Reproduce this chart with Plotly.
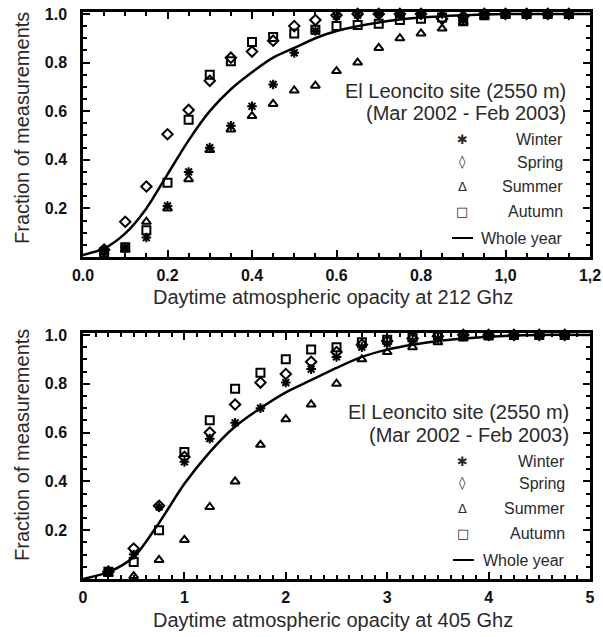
import plotly.graph_objects as go

# ---------------- data ----------------
x212 = [0.05, 0.10, 0.15, 0.20, 0.25, 0.30, 0.35, 0.40, 0.45, 0.50, 0.55, 0.60,
        0.65, 0.70, 0.75, 0.80, 0.85, 0.90, 0.95, 1.00, 1.05, 1.10, 1.15]
winter212 = [0.03, 0.04, 0.08, 0.21, 0.35, 0.45, 0.54, 0.62, 0.71, 0.84, 0.93, 0.99,
             0.995, 1.0, 1.0, 1.0, 1.0, 0.975, 1.0, 1.0, 1.0, 1.0, 1.0]
spring212 = [0.03, 0.145, 0.29, 0.505, 0.605, 0.725, 0.82, 0.845, 0.89, 0.95, 0.975, 0.995,
             1.0, 1.0, 1.0, 1.0, 0.98, 0.99, 1.0, 1.0, 1.0, 1.0, 1.0]
summer212 = [0.02, 0.03, 0.145, 0.20, 0.32, 0.44, 0.525, 0.58, 0.63, 0.685, 0.705, 0.765,
             0.80, 0.86, 0.90, 0.92, 0.94, 0.965, 0.99, 0.995, 1.0, 1.0, 1.0]
autumn212 = [0.02, 0.04, 0.11, 0.305, 0.565, 0.75, 0.805, 0.885, 0.905, 0.92, 0.935, 0.95,
             0.955, 0.96, 0.975, 0.98, 0.985, 0.97, 0.995, 1.0, 1.0, 1.0, 1.0]
year212_x = [0.0, 0.05, 0.10, 0.15, 0.20, 0.25, 0.30, 0.35, 0.40, 0.45, 0.50, 0.55, 0.60,
             0.70, 0.80, 0.90, 1.00, 1.10, 1.20]
year212_y = [0.008, 0.035, 0.097, 0.20, 0.34, 0.48, 0.60, 0.69, 0.76, 0.82, 0.86, 0.90, 0.93,
             0.965, 0.985, 0.995, 1.0, 1.0, 1.0]

x405 = [0.25, 0.50, 0.75, 1.00, 1.25, 1.50, 1.75, 2.00, 2.25, 2.50, 2.75, 3.00,
        3.25, 3.50, 3.75, 4.00, 4.25, 4.50, 4.75]
winter405 = [0.03, 0.10, 0.295, 0.48, 0.575, 0.64, 0.70, 0.805, 0.86, 0.91, 0.95, 0.965,
             0.975, 0.985, 0.995, 1.0, 1.0, 1.0, 1.0]
spring405 = [0.03, 0.125, 0.30, 0.50, 0.60, 0.715, 0.805, 0.84, 0.89, 0.93, 0.96, 0.975,
             0.985, 0.995, 1.0, 1.0, 1.0, 1.0, 1.0]
summer405 = [0.02, 0.012, 0.078, 0.16, 0.295, 0.40, 0.55, 0.655, 0.715, 0.80, 0.90, 0.93,
             0.95, 0.97, 0.985, 0.99, 1.0, 1.0, 1.0]
autumn405 = [0.03, 0.07, 0.20, 0.52, 0.65, 0.78, 0.845, 0.90, 0.94, 0.95, 0.97, 0.98,
             0.99, 1.0, 1.0, 1.0, 1.0, 1.0, 1.0]
year405_x = [0.0, 0.25, 0.50, 0.75, 1.00, 1.25, 1.50, 1.75, 2.00, 2.25, 2.50, 2.75, 3.00,
             3.25, 3.50, 3.75, 4.00, 4.50, 5.00]
year405_y = [0.0, 0.028, 0.09, 0.23, 0.39, 0.52, 0.625, 0.70, 0.765, 0.815, 0.865, 0.91, 0.94,
             0.96, 0.975, 0.985, 0.993, 1.0, 1.0]

x212_ticks = [0.0, 0.2, 0.4, 0.6, 0.8, 1.0, 1.2]
x212_ticktext = ["0.0", "0.2", "0.4", "0.6", "0.8", "1,0", "1,2"]
x405_ticks = [0, 1, 2, 3, 4, 5]
x405_ticktext = ["0", "1", "2", "3", "4", "5"]
y_ticks = [0.2, 0.4, 0.6, 0.8, 1.0]
y_ticktext = ["0.2", "0.4", "0.6", "0.8", "1.0"]

season_names = ["Winter", "Spring", "Summer", "Autumn", "Whole year"]
legend_glyphs = ["✱", "◊", "Δ", "□"]
site_title = "El Leoncito site (2550 m)"
period_title = "(Mar 2002 - Feb 2003)"
xtitle212 = "Daytime atmospheric opacity at 212 Ghz"
xtitle405 = "Daytime atmospheric opacity at 405 Ghz"
ytitle = "Fraction of measurements"

# ---------------- figure ----------------
W, H = 603, 637
FONT = "Liberation Sans, Arial, Helvetica, sans-serif"
TXT = "#2a2a2a"

fig = go.Figure()

symbols = {"Winter": "asterisk-open", "Spring": "diamond-open",
           "Summer": "triangle-up-open", "Autumn": "square-open"}
sizes = {"Winter": 8, "Spring": 8, "Summer": 8, "Autumn": 8}

def add_panel(xs, series, yx, yy, xa, ya):
    for name, vals in series:
        fig.add_trace(go.Scatter(
            x=xs, y=vals, mode="markers", name=name, showlegend=False,
            xaxis=xa, yaxis=ya, cliponaxis=False,
            marker=dict(symbol=symbols[name], size=sizes[name], color="black",
                        line=dict(color="black", width=2))))
    fig.add_trace(go.Scatter(
        x=yx, y=yy, mode="lines", name="Whole year", showlegend=False,
        xaxis=xa, yaxis=ya, line=dict(color="black", width=2.5, shape="spline", smoothing=0.8)))

add_panel(x212, [("Winter", winter212), ("Spring", spring212), ("Summer", summer212),
                 ("Autumn", autumn212)], year212_x, year212_y, "x", "y")
add_panel(x405, [("Winter", winter405), ("Spring", spring405), ("Summer", summer405),
                 ("Autumn", autumn405)], year405_x, year405_y, "x2", "y2")

def px_x(p):
    return p / W

def px_y(p):
    return 1 - p / H

tickfont = dict(family=FONT, size=16, color="#111111", weight="bold")

def xaxis_cfg(rng, tv, tt, dom, anchor, minor_dt):
    return dict(range=rng, domain=dom, anchor=anchor, tickvals=tv, ticktext=tt,
                ticks="inside", ticklen=7, tickwidth=2, tickcolor="black",
                showline=True, linewidth=2.5, linecolor="black", mirror="allticks",
                showgrid=False, zeroline=False, tickfont=tickfont, automargin=False,
                ticklabelstandoff=2,
                minor=dict(dtick=minor_dt, ticks="inside", ticklen=4, tickwidth=1.5,
                           tickcolor="black", showgrid=False))

def yaxis_cfg(dom, anchor):
    return dict(range=[0, 1.008], domain=dom, anchor=anchor, tickvals=y_ticks, ticktext=y_ticktext,
                ticks="inside", ticklen=7, tickwidth=2, tickcolor="black",
                showline=True, linewidth=2.5, linecolor="black", mirror="allticks",
                showgrid=False, zeroline=False, tickfont=tickfont, ticklabelstandoff=10,
                automargin=False,
                minor=dict(dtick=0.05, ticks="inside", ticklen=4, tickwidth=1.5,
                           tickcolor="black", showgrid=False))

xdom = [px_x(83), px_x(590)]
fig.update_layout(
    width=W, height=H, margin=dict(l=0, r=0, t=0, b=0, autoexpand=False),
    paper_bgcolor="white", plot_bgcolor="white", showlegend=False,
    xaxis=xaxis_cfg([0, 1.2], x212_ticks, x212_ticktext, xdom, "y", 0.05),
    yaxis=yaxis_cfg([px_y(257), px_y(12)], "x"),
    xaxis2=xaxis_cfg([0, 5], x405_ticks, x405_ticktext, xdom, "y2", 0.125),
    yaxis2=yaxis_cfg([px_y(579), px_y(333)], "x2"),
)

ann = []
def text(x, y, s, size, xanchor="center", angle=0, family=FONT):
    ann.append(dict(x=px_x(x), y=px_y(y), xref="paper", yref="paper", text=s,
                    showarrow=False, xanchor=xanchor, yanchor="middle", textangle=angle,
                    font=dict(family=family, size=size, color=TXT)))

# axis titles
text(333, 297, xtitle212, 20)
text(333, 620, xtitle405, 20)
text(22, 128, ytitle, 20, angle=-90)
text(22, 445, ytitle, 20, angle=-90)

shapes = []
def legend_block(right_t, right_l, sym_x, ys):
    text(right_t, ys[0], site_title, 20, xanchor="right")
    text(right_t, ys[1], period_title, 20, xanchor="right")
    for i, name in enumerate(season_names):
        text(right_l, ys[2 + i], name, 16, xanchor="right")
        if i < 4:
            text(sym_x, ys[2 + i], legend_glyphs[i], 13, family="DejaVu Sans")
        else:
            shapes.append(dict(type="line", xref="paper", yref="paper",
                               x0=px_x(sym_x - 10), x1=px_x(sym_x + 11),
                               y0=px_y(ys[2 + i]), y1=px_y(ys[2 + i]),
                               line=dict(color="black", width=2)))

legend_block(568, 565, 462, [91, 113, 139, 162, 186, 211, 238])
legend_block(571, 567, 463, [412, 435, 461, 483, 508, 533, 560])

fig.update_layout(annotations=ann, shapes=shapes)
fig.write_html("out.html", config={"displayModeBar": False},
               post_script="document.body.style.margin='0';document.body.style.overflow='hidden';")
